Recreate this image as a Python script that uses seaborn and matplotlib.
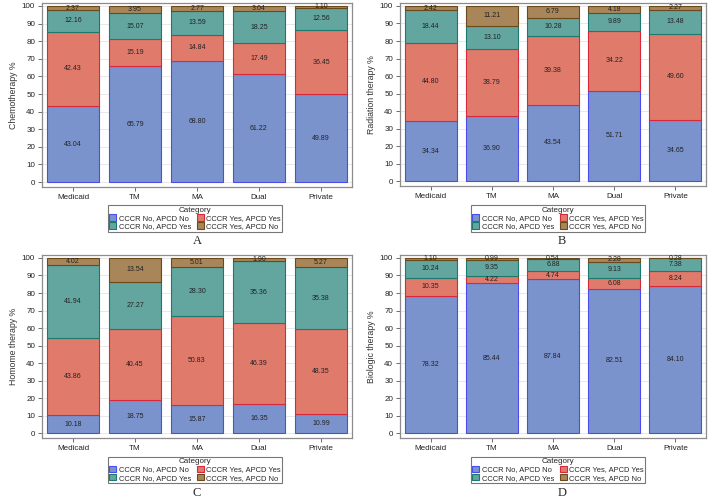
import numpy as np
import pandas as pd
import matplotlib.pyplot as plt
import seaborn as sns

sns.set_style("white")
plt.rcParams["font.family"] = ["Liberation Sans", "DejaVu Sans"]

groups = ["Medicaid", "TM", "MA", "Dual", "Private"]
categories = ["CCCR No, APCD No", "CCCR Yes, APCD Yes", "CCCR No, APCD Yes", "CCCR Yes, APCD No"]

# stacked from bottom: No/No, Yes/Yes, No/Yes, Yes/No
chemo_nn = [43.04, 65.79, 68.80, 61.22, 49.89]
chemo_yy = [42.43, 15.19, 14.84, 17.49, 36.45]
chemo_ny = [12.16, 15.07, 13.59, 18.25, 12.56]
chemo_yn = [2.37, 3.95, 2.77, 3.04, 1.10]

radio_nn = [34.34, 36.90, 43.54, 51.71, 34.65]
radio_yy = [44.80, 38.79, 39.38, 34.22, 49.60]
radio_ny = [18.44, 13.10, 10.28, 9.89, 13.48]
radio_yn = [2.42, 11.21, 6.79, 4.18, 2.27]

horm_nn = [10.18, 18.75, 15.87, 16.35, 10.99]
horm_yy = [43.86, 40.45, 50.83, 46.39, 48.35]
horm_ny = [41.94, 27.27, 28.30, 35.36, 35.38]
horm_yn = [4.02, 13.54, 5.01, 1.90, 5.27]

bio_nn = [78.32, 85.44, 87.84, 82.51, 84.10]
bio_yy = [10.35, 4.22, 4.74, 6.08, 8.24]
bio_ny = [10.24, 9.35, 6.88, 9.13, 7.38]
bio_yn = [1.10, 0.99, 0.54, 2.28, 0.28]

panels = [
    ("Chemotherapy %", "A", [chemo_nn, chemo_yy, chemo_ny, chemo_yn]),
    ("Radiation therapy %", "B", [radio_nn, radio_yy, radio_ny, radio_yn]),
    ("Homome therapy %", "C", [horm_nn, horm_yy, horm_ny, horm_yn]),
    ("Biologic therapy %", "D", [bio_nn, bio_yy, bio_ny, bio_yn]),
]

fills = ["#7A93CC", "#E07B6C", "#63A6A0", "#A8865A"]
edges = ["#4B4BEE", "#D8283C", "#1B7A6E", "#6A4A1A"]

W, H = 717, 501
# axes boxes in pixels: left, top, right, bottom
boxes = [(42, 3, 352, 187), (400, 3, 706, 186), (42, 255, 352, 438), (400, 255, 706, 438)]
leg_centers = [(195, 218.5), (558, 218.5), (195, 470), (558, 470)]
letter_pos = [(197, 241), (562, 241), (197, 493), (562, 493)]

fig = plt.figure(figsize=(W / 100, H / 100), dpi=100)

for (ylab, letter, series), (l, t, r, b), (lx, ly), (tx, ty) in zip(panels, boxes, leg_centers, letter_pos):
    ax = fig.add_axes([l / W, 1 - b / H, (r - l) / W, (b - t) / H])
    bottom = np.zeros(len(groups))
    handles = []
    for vals, cat, fc, ec in zip(series, categories, fills, edges):
        df = pd.DataFrame({"group": groups, "pct": vals})
        sns.barplot(data=df, x="group", y="pct", order=groups, bottom=bottom,
                    color=fc, edgecolor=ec, linewidth=0.8, width=0.85,
                    saturation=1, ax=ax, zorder=2)
        cont = ax.containers[-1]
        ax.bar_label(cont, labels=[f"{v:.2f}" for v in vals], label_type="center",
                     fontsize=5, color="#222222")
        handles.append(plt.Rectangle((0, 0), 1, 1, facecolor=fc, edgecolor=ec, linewidth=0.8))
        bottom = bottom + np.array(vals)

    ax.set_xlim(-0.5, 4.5)
    ax.set_ylim(-2.8, 101.7)
    ax.set_yticks(range(0, 101, 10))
    ax.yaxis.grid(True, color="#e4e4e4", linewidth=0.6, zorder=0)
    ax.set_axisbelow(True)
    ax.set_xlabel("")
    ax.set_ylabel(ylab, fontsize=6.3, color="#333333", labelpad=3)
    ax.tick_params(axis="both", labelsize=5.8, length=3, width=0.6, color="#555555",
                   labelcolor="#222222", direction="out", left=True, bottom=True, pad=2)
    for sp in ax.spines.values():
        sp.set_color("#8c8c8c")
        sp.set_linewidth(0.9)

    # legend rows: blue, red / teal, brown
    order = [0, 2, 1, 3]
    leg = fig.legend([handles[i] for i in order], [categories[i] for i in order],
                     title="Category", ncol=2, loc="center",
                     bbox_to_anchor=(lx / W, 1 - ly / H), fontsize=5.4, title_fontsize=5.8,
                     frameon=True, fancybox=False, edgecolor="#555555",
                     handlelength=0.9, handleheight=0.9, handletextpad=0.35,
                     columnspacing=0.8, labelspacing=0.05, borderpad=0.2,
                     borderaxespad=0)
    leg.get_frame().set_linewidth(0.8)

    fig.text(tx / W, 1 - ty / H, letter, ha="center", va="center", fontsize=9,
             family=["Liberation Serif", "DejaVu Serif"])

fig.savefig("out.png", dpi=100)
